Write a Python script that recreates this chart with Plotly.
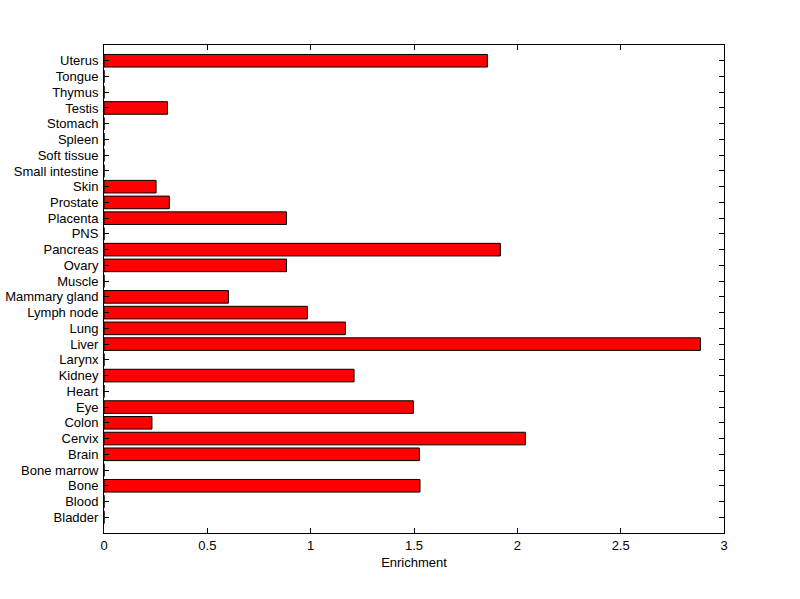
import plotly.graph_objects as go

tissues = ["Bladder", "Blood", "Bone", "Bone marrow", "Brain", "Cervix", "Colon", "Eye",
           "Heart", "Kidney", "Larynx", "Liver", "Lung", "Lymph node", "Mammary gland",
           "Muscle", "Ovary", "Pancreas", "PNS", "Placenta", "Prostate", "Skin",
           "Small intestine", "Soft tissue", "Spleen", "Stomach", "Testis", "Thymus",
           "Tongue", "Uterus"]
enrichment = [0, 0, 1.529, 0, 1.526, 2.039, 0.232, 1.497,
              0, 1.21, 0, 2.886, 1.168, 0.984, 0.602,
              0, 0.883, 1.918, 0, 0.883, 0.316, 0.252,
              0, 0, 0, 0, 0.307, 0, 0, 1.855]
x_ticks = [0, 0.5, 1, 1.5, 2, 2.5, 3]
x_tick_labels = ["0", "0.5", "1", "1.5", "2", "2.5", "3"]

font = dict(family="Liberation Sans, Arial, sans-serif", size=13, color="black")

fig = go.Figure(go.Bar(
    x=enrichment, y=tissues, orientation="h",
    marker=dict(color="#ff0000", line=dict(color="black", width=1)),
    width=0.8,
))

fig.update_layout(
    width=800, height=599,
    margin=dict(l=104, r=76, t=45, b=66),
    paper_bgcolor="white", plot_bgcolor="white",
    font=font, showlegend=False,
    xaxis=dict(range=[0, 3], tickmode="array", tickvals=x_ticks, ticktext=x_tick_labels,
               ticks="inside", ticklen=5, tickcolor="black",
               showline=True, linecolor="black", linewidth=1, mirror="ticks",
               showgrid=False, zeroline=False, automargin=False,
               title=dict(text="Enrichment", font=font, standoff=6)),
    yaxis=dict(type="category", categoryorder="array", categoryarray=tissues,
               tickmode="array", tickvals=tissues, ticktext=tissues,
               range=[-1, len(tissues)],
               ticks="inside", ticklen=5, tickcolor="black",
               showline=True, linecolor="black", linewidth=1, mirror="ticks",
               showgrid=False, zeroline=False, ticklabelstandoff=2, automargin=False),
)

fig.write_html("out.html", config={"displayModeBar": False},
               post_script="document.body.style.margin='0';document.body.style.overflow='hidden';")
